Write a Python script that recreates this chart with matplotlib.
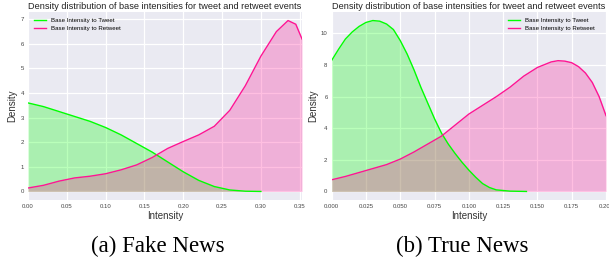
import matplotlib.pyplot as plt
import numpy as np

# Fake news panel: KDE curves
fake_tweet_x = [0.0, 0.02, 0.05, 0.08, 0.10, 0.12, 0.14, 0.16, 0.17, 0.18, 0.20, 0.22, 0.24, 0.26, 0.28, 0.30]
fake_tweet_y = [3.6, 3.45, 3.15, 2.85, 2.6, 2.3, 1.95, 1.6, 1.4, 1.2, 0.8, 0.45, 0.2, 0.06, 0.01, 0.0]
fake_retweet_x = [0.0, 0.02, 0.04, 0.06, 0.08, 0.10, 0.12, 0.14, 0.16, 0.18, 0.20, 0.22, 0.24, 0.26,
                  0.28, 0.30, 0.32, 0.335, 0.345, 0.353]
fake_retweet_y = [0.14, 0.25, 0.42, 0.55, 0.62, 0.72, 0.88, 1.08, 1.38, 1.75, 2.03, 2.3, 2.65, 3.3,
                  4.3, 5.5, 6.5, 6.95, 6.8, 6.2]

# True news panel
true_tweet_x = [0.0, 0.005, 0.01, 0.015, 0.02, 0.025, 0.03, 0.035, 0.04, 0.045, 0.05, 0.055, 0.06,
                0.065, 0.07, 0.075, 0.08, 0.085, 0.09, 0.095, 0.10, 0.105, 0.11, 0.115, 0.12, 0.13, 0.142]
true_tweet_y = [8.3, 9.0, 9.65, 10.1, 10.45, 10.7, 10.82, 10.78, 10.6, 10.25, 9.55, 8.7, 7.7,
                6.6, 5.6, 4.6, 3.7, 3.0, 2.4, 1.85, 1.35, 0.9, 0.5, 0.25, 0.1, 0.02, 0.0]
true_retweet_x = [0.0, 0.01, 0.02, 0.03, 0.04, 0.05, 0.06, 0.07, 0.08, 0.09, 0.10, 0.11, 0.12, 0.13,
                  0.14, 0.15, 0.16, 0.165, 0.17, 0.175, 0.18, 0.185, 0.19, 0.195, 0.20]
true_retweet_y = [0.74, 0.95, 1.2, 1.45, 1.7, 2.05, 2.5, 3.0, 3.5, 4.2, 4.9, 5.45, 6.0, 6.6,
                  7.3, 7.85, 8.2, 8.28, 8.25, 8.15, 7.9, 7.5, 6.9, 6.0, 4.8]

title = "Density distribution of base intensities for tweet and retweet events"
labels = ["Base Intensity to Tweet", "Base Intensity to Retweet"]
captions = ["(a) Fake News", "(b) True News"]

plt.rcParams['font.family'] = ['Liberation Sans', 'DejaVu Sans']

fig = plt.figure(figsize=(6.09, 2.62), dpi=100)
ax1 = fig.add_axes([28 / 609, 62 / 262, 274 / 609, 188 / 262])
ax2 = fig.add_axes([331.7 / 609, 62 / 262, 274.3 / 609, 188 / 262])


def draw(ax, tx, ty, rx, ry, xlim, xticks, yticks, loc, anchor):
    ax.set_facecolor('#EAEAF2')
    for s in ax.spines.values():
        s.set_visible(False)
    ax.grid(True, color='white', linewidth=0.9)
    ax.set_axisbelow(True)
    ax.fill_between(tx, ty, color='lime', alpha=0.27, linewidth=0)
    ax.plot(tx, ty, color='lime', lw=1.0, label=labels[0])
    ax.fill_between(rx, ry, color='deeppink', alpha=0.27, linewidth=0)
    ax.plot(rx, ry, color='deeppink', lw=1.0, label=labels[1])
    ax.set_xlim(*xlim)
    ax.set_xticks(xticks)
    ax.set_yticks(yticks)
    ax.tick_params(length=0, labelsize=4.3, colors='#444444', pad=3)
    ax.set_xlabel("Intensity", fontsize=7, color='#333333', labelpad=1)
    ax.set_ylabel("Density", fontsize=7, color='#333333', labelpad=2)
    ax.set_title(title, fontsize=6.6, color='#222222', pad=2)
    ax.legend(loc=loc, bbox_to_anchor=anchor, frameon=False, fontsize=4.4)


draw(ax1, fake_tweet_x, fake_tweet_y, fake_retweet_x, fake_retweet_y,
     (0, 0.353), np.arange(0, 0.351, 0.05), range(0, 8), 'upper left', (0, 1))
ax1.set_xticklabels(["%.2f" % v for v in np.arange(0, 0.351, 0.05)])
draw(ax2, true_tweet_x, true_tweet_y, true_retweet_x, true_retweet_y,
     (0, 0.2), np.arange(0, 0.201, 0.025), range(0, 11, 2), 'upper right', (0.98, 1))
ax2.set_xticklabels(["%.3f" % v for v in np.arange(0, 0.201, 0.025)])

for x, c in zip([158 / 609, 462 / 609], captions):
    fig.text(x, 10 / 262, c, ha='center', va='baseline', fontsize=16.5,
             family='Liberation Serif')

fig.savefig("out.png", dpi=100)
